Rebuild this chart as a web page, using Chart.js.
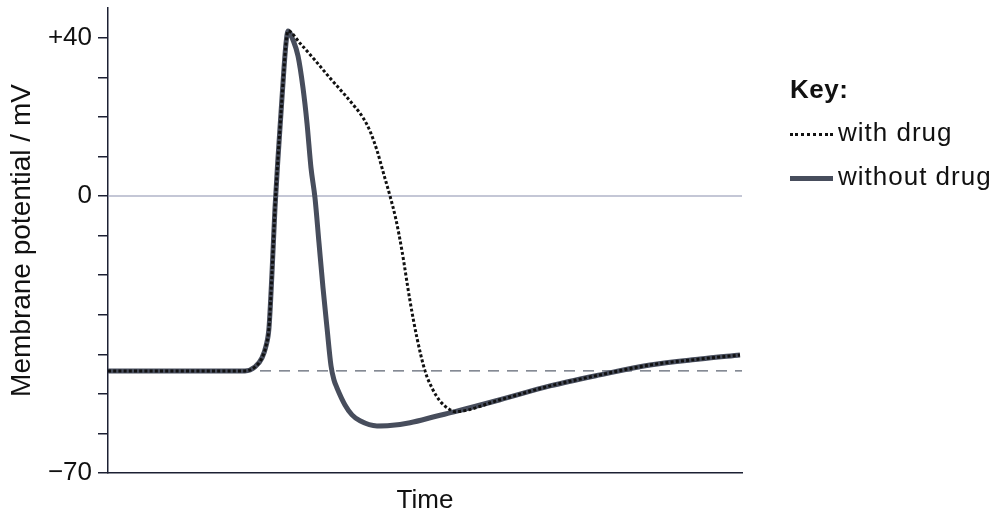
<!DOCTYPE html>
<html lang="en">
<head>
<meta charset="UTF-8">
<title>Membrane potential with and without drug</title>
<script src="https://cdn.jsdelivr.net/npm/chart.js"></script>
<style>
  html, body { margin: 0; padding: 0; background: #fff; }
  .wrap { position: relative; width: 998px; height: 518px; }
  .key { position: absolute; left: 790px; font-family: "Liberation Sans", Arial, sans-serif;
         font-size: 26px; line-height: 30px; color: #111; white-space: nowrap; letter-spacing: 1px; }
  .key.title { font-weight: bold; letter-spacing: 0.5px; }
  .sample { display: inline-block; width: 43px; vertical-align: middle; margin-right: 5px; }
  .sample.dots { border-top: 3px dotted #111; }
  .sample.solid { height: 5px; background: #474d5c; }
</style>
</head>
<body>
<div class="wrap">
  <canvas id="apChart" width="998" height="518"></canvas>
  <div class="key title" style="top:74px">Key:</div>
  <div class="key" style="top:117px"><span class="sample dots"></span>with drug</div>
  <div class="key" style="top:161px"><span class="sample solid"></span>without drug</div>
</div>

<script>
  // time in arbitrary units, membrane potential in mV
  const timeRise = [0, 137, 147, 154, 158, 161, 164, 167, 170, 173, 176, 178, 180];
  const mvRise   = [-44.2, -44.2, -43.2, -40.9, -37.9, -33.3, -19.4, -3.0, 9.6, 21.0, 32.3, 38.6, 41.7];

  // repolarisation without drug
  const timeNoDrug = [185, 190, 195, 199, 203, 207, 211, 215, 219, 223, 226, 229, 237, 244, 252, 269, 282, 302, 329];
  const mvNoDrug   = [39.4, 35.4, 27.3, 18.4, 7.1, -0.5, -11.9, -23.2, -33.3, -42.9, -46.5, -48.5, -52.8, -55.3, -56.8, -58.1, -58.0, -57.3, -55.6];

  // repolarisation with drug
  const timeDrug = [192, 207, 222, 237, 247, 255, 262, 269, 276, 282, 288, 294, 302, 309, 317, 324, 332, 342];
  const mvDrug   = [38.6, 34.3, 29.8, 25.5, 22.5, 19.8, 16.4, 11.5, 5.3, 0.0, -6.0, -13.9, -26.5, -35.9, -44.2, -48.5, -51.8, -54.0];

  // shared recovery tail
  const timeTail = [347, 392, 442, 492, 542, 592, 632];
  const mvTail   = [-54.5, -51.5, -48.0, -45.2, -42.7, -41.2, -40.2];

  const restingMv = -44.2;
  const timeEnd = 634;
  const yTicks = [-70, -60, -50, -40, -30, -20, -10, 0, 10, 20, 30, 40];
  const yLabels = { '40': '+40', '0': '0', '-70': '\u221270' };

  const pts = (t, v) => t.map((x, i) => ({ x: x, y: v[i] }));
  const withDrug = pts(timeRise, mvRise).concat(pts(timeDrug, mvDrug), pts(timeTail, mvTail));
  const withoutDrug = pts(timeRise, mvRise).concat(pts(timeNoDrug, mvNoDrug), pts(timeTail, mvTail));

  const axisColor = '#1c2033';
  const font = { family: '"Liberation Sans", Arial, sans-serif', size: 26 };

  // drop the extra room Chart.js keeps for end labels
  const noPad = s => { s.paddingTop = 0; s.paddingBottom = 0; s.paddingLeft = 0; s.paddingRight = 0; };

  new Chart(document.getElementById('apChart'), {
    type: 'line',
    data: {
      datasets: [
        { label: 'with drug', data: withDrug, borderColor: '#111', borderWidth: 3,
          borderDash: [3, 2.2], cubicInterpolationMode: 'monotone', order: 0 },
        { label: 'without drug', data: withoutDrug, borderColor: '#474d5c', borderWidth: 5,
          cubicInterpolationMode: 'monotone', order: 1 },
        { label: 'zero', data: pts([0, timeEnd], [0, 0]), borderColor: '#8a90ad', borderWidth: 1.2, order: 2 },
        { label: 'resting', data: pts([0, timeEnd], [restingMv, restingMv]), borderColor: '#5d6472',
          borderWidth: 1.2, borderDash: [11, 8], order: 2 }
      ]
    },
    options: {
      responsive: false,
      animation: false,
      layout: { padding: { top: 8, right: 256, bottom: 0, left: 0 } },
      elements: { point: { radius: 0 } },
      plugins: { legend: { display: false }, tooltip: { enabled: false } },
      scales: {
        x: {
          type: 'linear', min: 0, max: timeEnd,
          ticks: { display: false },
          grid: { display: false },
          border: { color: axisColor, width: 1.5 },
          title: { display: true, text: 'Time', color: '#111', font: font, padding: { top: 0, bottom: 2 } },
          afterFit: s => { s.height = 45; noPad(s); }
        },
        y: {
          min: -70, max: 47.5,
          afterBuildTicks: s => { s.ticks = yTicks.map(v => ({ value: v })); },
          ticks: { callback: v => yLabels[String(v)] || '', color: '#111', font: font, padding: 6, autoSkip: false },
          grid: { drawOnChartArea: false, drawTicks: true, tickLength: 10, color: axisColor, lineWidth: 1.5 },
          border: { color: axisColor, width: 1.5 },
          title: { display: true, text: 'Membrane potential / mV', color: '#111',
                   font: { family: font.family, size: 28 }, padding: { top: 5, bottom: 0 } },
          afterFit: s => { s.width = 108; noPad(s); }
        }
      }
    }
  });
</script>
</body>
</html>
